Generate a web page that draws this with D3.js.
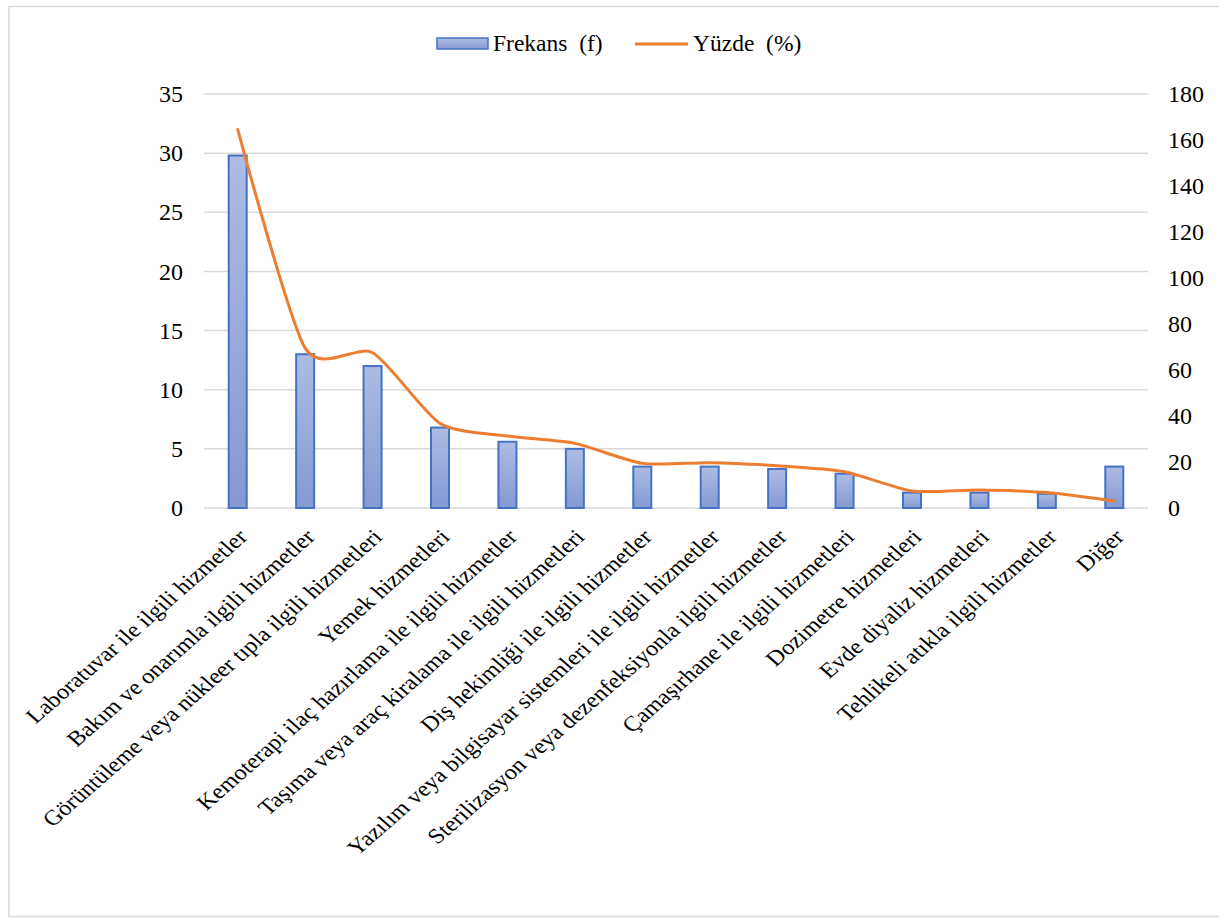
<!DOCTYPE html>
<html>
<head>
<meta charset="utf-8">
<script src="https://cdn.jsdelivr.net/npm/d3@7"></script>
<style>
  html, body { margin: 0; padding: 0; background: #fff; }
  svg text { font-family: "Liberation Serif", "Times New Roman", serif; fill: #000; }
</style>
</head>
<body>
<svg id="chart" width="1219" height="918"></svg>
<script>
const categories = [
  "Laboratuvar ile ilgili hizmetler",
  "Bakım ve onarımla ilgili hizmetler",
  "Görüntüleme veya nükleer tıpla ilgili hizmetleri",
  "Yemek hizmetleri",
  "Kemoterapi ilaç hazırlama ile ilgili hizmetler",
  "Taşıma veya araç kiralama ile ilgili hizmetleri",
  "Diş hekimliği ile ilgili hizmetler",
  "Yazılım veya bilgisayar sistemleri ile ilgili hizmetler",
  "Sterilizasyon veya dezenfeksiyonla ilgili hizmetler",
  "Çamaşırhane ile ilgili hizmetleri",
  "Dozimetre hizmetleri",
  "Evde diyaliz hizmetleri",
  "Tehlikeli atıkla ilgili hizmetler",
  "Diğer"
];
const frekans = [29.8, 13.0, 12.0, 6.8, 5.6, 5.0, 3.5, 3.5, 3.3, 2.9, 1.3, 1.3, 1.2, 3.5];
const yuzde = [164.6, 69.5, 67.5, 36.8, 31.3, 28.1, 19.4, 19.7, 18.4, 15.8, 7.4, 7.8, 6.7, 3.0];
const leftTicks = [0, 5, 10, 15, 20, 25, 30, 35];
const rightTicks = [0, 20, 40, 60, 80, 100, 120, 140, 160, 180];
const legendLabels = ["Frekans  (f)", "Yüzde  (%)"];

const svg = d3.select("#chart");
const FONT = "'Liberation Serif', 'Times New Roman', serif";

// outer border
svg.append("rect").attr("x", 9).attr("y", 6.5).attr("width", 1230).attr("height", 910)
  .attr("fill", "none").attr("stroke", "#d9d9d9").attr("stroke-width", 1.5);

const plot = { left: 204, right: 1148, top: 94, bottom: 508 };

const x = d3.scaleBand().domain(categories).range([plot.left, plot.right]).paddingInner(0).paddingOuter(0);
const yL = d3.scaleLinear().domain([0, 35]).range([plot.bottom, plot.top]);
const yR = d3.scaleLinear().domain([0, 180]).range([plot.bottom, plot.top]);

// gradient
const defs = svg.append("defs");
const grad = defs.append("linearGradient").attr("id", "barGrad")
  .attr("x1", 0).attr("y1", 0).attr("x2", 0).attr("y2", 1);
grad.append("stop").attr("offset", "0%").attr("stop-color", "#adbce3");
grad.append("stop").attr("offset", "100%").attr("stop-color", "#8599d3");

// gridlines
svg.append("g").selectAll("line").data(leftTicks).join("line")
  .attr("x1", plot.left).attr("x2", plot.right)
  .attr("y1", d => yL(d)).attr("y2", d => yL(d))
  .attr("stroke", "#d9d9d9").attr("stroke-width", 1.5);

// left axis
const leftAxis = d3.axisLeft(yL).tickValues(leftTicks).tickSize(0).tickPadding(21);
const gL = svg.append("g").attr("transform", `translate(${plot.left},0)`).call(leftAxis);
gL.select(".domain").remove();
gL.selectAll("text").attr("font-size", 24).style("font-family", FONT);

// right axis
const rightAxis = d3.axisRight(yR).tickValues(rightTicks).tickSize(0).tickPadding(20);
const gR = svg.append("g").attr("transform", `translate(${plot.right},0)`).call(rightAxis);
gR.select(".domain").remove();
gR.selectAll("text").attr("font-size", 24).style("font-family", FONT);

// bars
const barW = 18;
svg.append("g").selectAll("rect").data(categories).join("rect")
  .attr("x", d => x(d) + x.bandwidth() / 2 - barW / 2)
  .attr("y", (d, i) => yL(frekans[i]))
  .attr("width", barW)
  .attr("height", (d, i) => yL(0) - yL(frekans[i]))
  .attr("fill", "url(#barGrad)")
  .attr("stroke", "#4472c4").attr("stroke-width", 2);

// line
const line = d3.line()
  .x((d, i) => x(categories[i]) + x.bandwidth() / 2)
  .y(d => yR(d))
  .curve(d3.curveCardinal.tension(0.3));
svg.append("path").datum(yuzde).attr("d", line)
  .attr("fill", "none").attr("stroke", "#ed7d31").attr("stroke-width", 3).attr("stroke-linecap", "round");

// x axis labels
const xAxis = d3.axisBottom(x).tickSize(0).tickPadding(0);
const gX = svg.append("g").attr("transform", `translate(0,${plot.bottom})`).call(xAxis);
gX.select(".domain").remove();
gX.selectAll(".tick text")
  .attr("font-size", 24.5).style("font-family", FONT)
  .attr("text-anchor", "end")
  .attr("y", 0)
  .attr("dy", "0.35em")
  .attr("transform", "translate(5,25) scale(1,0.875) rotate(-45)");

// legend
const lg = svg.append("g");
lg.append("rect").attr("x", 437).attr("y", 38).attr("width", 51).attr("height", 11)
  .attr("fill", "url(#barGrad)").attr("stroke", "#4472c4").attr("stroke-width", 1.5);
lg.append("text").attr("x", 493).attr("y", 51).attr("font-size", 23.5)
  .style("white-space", "pre").text(legendLabels[0]);
lg.append("line").attr("x1", 635).attr("x2", 688).attr("y1", 44).attr("y2", 44)
  .attr("stroke", "#ed7d31").attr("stroke-width", 3);
lg.append("text").attr("x", 693).attr("y", 51).attr("font-size", 23.5)
  .style("white-space", "pre").text(legendLabels[1]);
</script>
</body>
</html>
